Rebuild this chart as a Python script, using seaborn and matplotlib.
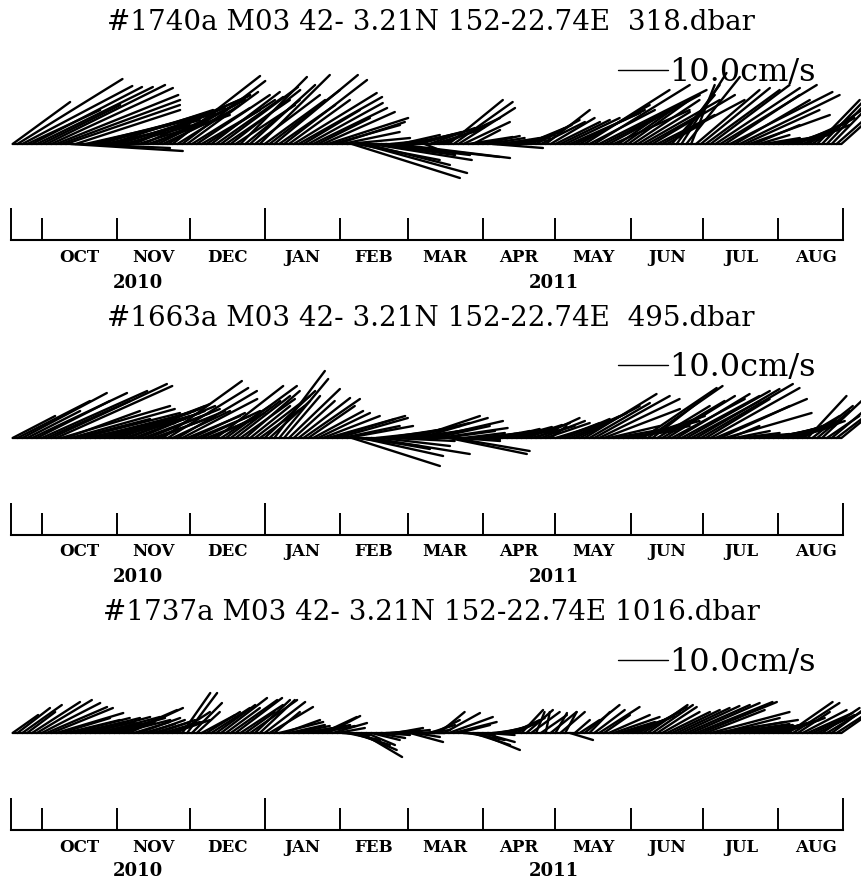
import numpy as np
import pandas as pd
import matplotlib
matplotlib.use("Agg")
import matplotlib.pyplot as plt
import matplotlib.dates as mdates
import matplotlib.transforms as mtransforms
import seaborn as sns

# ---------------- data ----------------
titles = ["#1740a M03 42- 3.21N 152-22.74E  318.dbar",
          "#1663a M03 42- 3.21N 152-22.74E  495.dbar",
          "#1737a M03 42- 3.21N 152-22.74E 1016.dbar"]
month_labels = ["OCT", "NOV", "DEC", "JAN", "FEB", "MAR", "APR", "MAY", "JUN", "JUL", "AUG"]
month_starts = ["2010-10-01", "2010-11-01", "2010-12-01", "2011-01-01", "2011-02-01", "2011-03-01",
                "2011-04-01", "2011-05-01", "2011-06-01", "2011-07-01", "2011-08-01", "2011-09-01"]
year_labels = ["2010", "2011"]
record_start = "2010-09-18 12:00"
record_end = "2011-08-27 18:00"
scale_value = 10.0
scale_label = "10.0cm/s"

stick_first = "2010-09-19"
stick_step = "2D"

# eastward (u) and northward (v) velocity, cm/s, every 2 days
u_318 = [11.5, 21, 22, 14.6, 22, 23.2, 15.7, 23.7, 24.3, 24.4,
         23.8, 22.8, 22.4, 20.9, 17.9, 22.9, 23, 15, 22, 17,
         20.7, 17.1, 19.2, 16.2, 19.2, 21.2, 15.3, 21.3, 16.3, 16.4,
         17.4, 13.4, 16.5, 17.5, 12.5, 16.6, 14.2, 11.6, 14.6, 11.7,
         13.7, 13.7, 13.4, 15.4, 12.8, 13.9, 11.9, 13.3, 10.9, 13,
         13, 14, 12.1, 14.1, 16.7, 11.2, 16.6, 12.2, 16.6, 16.7,
         11.3, 14.9, 14.8, 10.4, 14.4, 16.1, 13.5, 13.5, 11.5, 12.6,
         21.6, 16.6, 21.1, 16.7, 20.1, 15.8, 17.8, 22.8, 7.8, 22.9,
         7.9, 8.9, 9, 9.4, 10, 3, 9.1, 9.1, 9.1, 11.2,
         10.8, 11.8, 11.3, 9.3, 8.9, 5.4, 4.4, 7.4, 7.4, 10.1,
         6.5, 7.5, 7.6, 7.6, 7.6, 7.7, 7.7, 8.1, 8.7, 8.8,
         8.8, 8.8, 8.9, 9.9, 10.9, 14, 14, 14, 17, 13.1,
         19.1, 21.5, 15.2, 18.2, 15.2, 8.3, 10.3, 12.3, 13.3, 10.4,
         15.4, 11.4, 16.5, 11.5, 16.5, 6.6, 8.6, 8.6, 9, 10.7,
         4.7, 12.7, 13.8, 14.8, 15.8, 16.9, 19.3, 14.9, 20.5, 15,
         20, 15, 16.1, 9.1, 6.1, 7.2, 8.2, 8.2, 8.2, 9.3,
         9.9, 9.3, 9.4, 9.4, 9.4, 9.9, 8.5, 9.5, 7.5, 8.6,
         6.6, 7.6]
v_318 = [8.4, 13, 11.6, 6.8, 11.4, 11.4, 7.8, 11.8, 11.2, 9.8,
         8.8, 7.8, -1.4, 6.8, -0.8, 5.2, 5.8, 3.8, 6.4, 3.8,
         6.8, 4.8, 6.2, 4.4, 7.2, 8.8, 4.8, 9.8, 5.8, 7.8,
         8.8, 6.4, 9.8, 13.6, 7.8, 12.6, 10.4, 7.2, 9.8, 6.8,
         8.8, 10.4, 9.4, 11.4, 8.8, 10.8, 7.8, 13.4, 8.8, 11.8,
         9.8, 13.8, 8.8, 10.8, 13.8, 7.8, 12.8, 8.8, 10.2, 9.4,
         6.8, 8.2, 7.2, 5.2, 6.4, 5.2, 3.8, 4.4, 2.4, 1.2,
         -6.8, -3.2, -5.8, -4.2, -3.2, -2.2, -2.2, -2.6, 0.8, -2.8,
         1.8, 1.6, 2, 2.4, 2.8, -1.2, 3.2, 2.8, 3.4, 5.2,
         8.8, 8.4, 7.2, 4.4, 1.4, 2.8, 0.8, 1.6, 1.2, -0.8,
         0.8, 1.2, 0.8, 1.2, 1.8, 2.4, 3.2, 3.8, 4.8, 4.4,
         6.8, 5.2, 4.4, 4.8, 5.2, 6.2, 6.8, 7.8, 10.8, 6.8,
         11.8, 10.8, 7.8, 9.8, 6.8, 5.8, 7.2, 8.8, 8.8, 6.4,
         8.8, 6.4, 9.8, 5.8, 8.8, 3.8, 9.8, 11.8, 14.2, 13.4,
         11.8, 10.8, 11.2, 10.8, 11.8, 11.2, 11.8, 9.8, 10.4, 8.8,
         9.8, 6.8, 5.8, 3.8, 1.8, 1.2, 1.2, 1, 1.2, 1.8,
         2.8, 3.4, 4.2, 3.8, 5.2, 6.8, 8.8, 9.8, 7.8, 8.8,
         5.8, 6.8]

u_495 = [8.5, 14.5, 16.9, 10.6, 19, 14.6, 21.1, 16.7, 23.1, 23.2,
         21.8, 14.8, 20.8, 14.9, 19.9, 16.9, 20, 16, 19, 16.1,
         18.1, 15.1, 17.2, 15.2, 16.2, 14.2, 15.3, 13.3, 14.3, 12.4,
         13.4, 15.8, 16.1, 11.5, 15.9, 15, 10.6, 10.6, 10.6, 11.7,
         9.7, 10.7, 13.4, 9.8, 14.2, 9.9, 10.9, 10.9, 10.9, 8,
         11, 9, 10.1, 8.1, 10.1, 9.8, 7.2, 10.2, 8.2, 10.3,
         11.3, 9.3, 10, 10.4, 11.4, 15.5, 12.5, 14.1, 11.5, 13.2,
         17.6, 12.6, 16.3, 12.7, 19.7, 12.8, 13.8, 11.8, 12.8, 12.9,
         9.9, 12.9, 10, 13, 13.6, 9.1, 14.7, 11.1, 13.7, 10.2,
         15.6, 15.2, 8.3, 8.3, 8.3, 5.4, 7.4, 7.4, 7.4, 7.5,
         7.5, 7.5, 8.2, 8, 8.2, 8.1, 8.7, 8.7, 8.7, 8.8,
         8.8, 3.2, 7.9, 7.9, 8.9, 10, 10.4, 12, 14.4, 12.1,
         15.1, 16.1, 15.2, 10.2, 10.2, 11.3, 11.3, 12.3, 13.3, 13.4,
         14.8, 15, 9.5, 10.5, 12.5, 13.6, 14.6, 14.6, 15.6, 16.7,
         13.7, 16.7, 18.4, 12.8, 17.8, 18.3, 13.9, 17.3, 5.9, 7,
         8, 9, 10.1, 10.1, 10.1, 10.2, 10.2, 10.2, 10.2, 10.3,
         9.9, 8.3, 9.4, 7.4, 7.8, 8.1, 6.5, 7.9, 6.5, 7.6,
         5, 6.6]
v_495 = [4.4, 7.4, 9, 5.4, 9, 7.4, 9.4, 7.4, 10.8, 10.4,
         6.4, 5.4, 5.8, 3.8, 5, 3.4, 5, 3, 5.4, 3.8,
         5.8, 4.4, 6.4, 5, 6.8, 5.4, 6.4, 5, 5.8, 4.4,
         5.4, 11.4, 10, 5.4, 9.4, 7.8, 4.4, 5, 4.4, 5.4,
         3.8, 5, 10.4, 6.4, 10.4, 7.4, 8.4, 7.8, 9.4, 6.4,
         8.4, 6.4, 9.4, 7.4, 13.4, 11.8, 8.4, 9.8, 7.4, 8,
         7.8, 6.4, 5.4, 5, 4.4, 4.4, 3.8, 4, 2.4, 2.4,
         -5.6, -1.6, -3.6, -2.2, -3.2, 1.4, -1.6, 1.8, -0.6, 2.4,
         1, 3, 1.4, 4.4, 4, 1.8, 3.4, 2.4, 2, 1.4,
         -3.2, -2.6, -0.6, 1, 0.4, -0.2, 0.8, 1, 0.6, 1.4,
         1, 1.8, 1.4, 2.2, 1.8, 2.6, 3, 2.4, 4, 3.4,
         3, 2.4, 2.4, 3, 3.8, 4.4, 5, 6.4, 8.8, 7,
         8.4, 7.8, 5.8, 2.4, 1.8, 1.4, 1.8, 2.4, 3.4, 4.4,
         10, 10.4, 7.4, 6.4, 7.4, 8.4, 7.8, 8.8, 8.4, 9.4,
         7.4, 9.8, 10.8, 7.8, 10, 7.8, 6.4, 5, 2.4, 1.4,
         1, 0.8, 0.6, 0.8, 1, 1.4, 1.8, 2.2, 2.6, 3,
         3.4, 2.4, 3.4, 4.4, 8.4, 6.4, 5.4, 7.4, 4.4, 6.4,
         3.8, 5.4]

u_1016 = [5.1, 6.5, 7.9, 5.6, 9.6, 11, 11.7, 12.1, 12.3, 13.4,
          9.8, 10.8, 11.8, 9.9, 11.9, 9.9, 12, 9, 12, 9.1,
          11.1, 8.1, 10.2, 10.6, 10.8, 7.2, 8.3, 6.3, 7.3, 7.4,
          7.4, 7.4, 7.5, 7.5, 6.5, 5.6, 6, 6, 4.6, 6.7,
          6.7, 7.7, 7.8, 9.2, 6.8, 9.3, 9.3, 8.5, 5.9, 9.4,
          7, 7, 8.1, 8.7, 5.1, 8.8, 7.2, 7.2, 7.2, 7.3,
          7.3, 7.3, 7.4, 7.4, 6.8, 6.5, 6.9, 5.5, 5.5, 6.6,
          7.6, 8, 8.1, 5.7, 5.7, 5.8, 5.8, 5.8, 5.8, 5.5,
          5.9, 5.9, 6.6, 5, 5, 5.1, 5.1, 5.1, 5.1, 7.2,
          8.8, 8.6, 6.3, 6.3, 7.3, 7.4, 8.4, 6.4, 5.4, 5.5,
          5.5, 5.5, 5.6, 5.6, 5.6, 4.3, 5.3, 5.7, 1.7, 5.2,
          0.8, 5.2, 2.3, 4.9, 2.3, 4.6, 3, 4, 7, 4.1,
          6.1, 8.1, 5.2, 8.2, 9.2, 7.3, 8.3, 8.3, 8.3, 8.4,
          8.8, 8, 8.1, 7.9, 7.5, 8.6, 9.6, 10.6, 11.6, 12.7,
          13.7, 15.3, 15.2, 11.8, 15.8, 16.5, 11.9, 11.9, 11.9, 11.6,
          11, 11, 10.1, 10.1, 9.7, 9.2, 8.8, 8.2, 8.2, 8.3,
          8.9, 9.3, 6.4, 8.8, 9, 6.5, 7.5, 7.5, 6.9, 7.6,
          5.6, 6.6]
v_1016 = [3.6, 5, 5.6, 4.2, 6.2, 6.6, 6, 5.2, 5, 4,
          3, 2.6, 3, 2.2, 3, 2.2, 3.2, 2, 3.2, 2.2,
          3, 2, 2.6, 4.6, 5, 2.2, 3, 1.8, 2.6, 2.2,
          2.6, 2.2, 2.4, 2.6, 4.2, 8, 8, 6, 4.2, 3.6,
          4.2, 5, 5.6, 7, 5, 6.6, 7, 5.6, 4.2, 6.6,
          6.6, 6.6, 6.2, 5.2, 4.2, 2.2, 2.6, 1.6, 1.4, 1,
          1.2, 1.4, 1.6, 1.4, 3.2, 3.4, 2, 1, -0.4, -1.4,
          -2.4, -3.4, -4.8, -2.4, -1.4, -1, -0.4, 0.2, 0.6, 1,
          0.6, 0, -1.8, -0.8, 0, 0.6, 1.6, 2.6, 4.2, 4,
          3.2, 2.2, 1.6, -0.4, -1.4, -2.4, -3.4, -1.8, -0.4, 0.6,
          1, 1.4, 1.8, 2.6, 3, 4.6, 4.6, 4.2, 4.2, 3.6,
          4.2, 4.2, 4, 4.2, 4.2, -1.4, 2.6, 2.6, 5.6, 4.2,
          4.6, 5.2, 3.6, 3.6, 3.2, 2.2, 2.6, 3, 3.4, 4.2,
          5.2, 5.6, 5.6, 5.2, 4.2, 4.2, 4.6, 5, 5.4, 5.6,
          6, 6.2, 6.2, 4.6, 4.2, 2.6, 3, 2.2, 1.8, 1.6,
          1.4, 1.2, 1.4, 1.6, 1.8, 2, 2.2, 2.4, 2.6, 3,
          6.2, 6, 4.2, 4.6, 4, 3, 3.6, 5, 4.2, 5.6,
          3.6, 4.6]

series = [(u_318, v_318), (u_495, v_495), (u_1016, v_1016)]

# ---------------- layout (pixels) ----------------
W, H = 862, 881
view_start = pd.Timestamp("2010-09-13 19:00")
view_end = pd.Timestamp("2011-09-04 12:00")
base_y = [144, 438, 733]
axis_y = [240, 535, 830]
title_y = [22, 319, 613]
scale_line_y = [70, 365, 660]
scale_text_y = [81, 376, 671]
scale_x0 = 618
month_y = [258, 552, 847]
year_y = [283, 577, 871]
stick_above, stick_below = 90, 50

sns.set_style("white")
plt.rcParams["font.family"] = ["DejaVu Serif"]
plt.rcParams["text.color"] = "black"

fig = plt.figure(figsize=(W / 100, H / 100), dpi=100)
x0n = mdates.date2num(view_start)
x1n = mdates.date2num(view_end)
px_per_day = W / (x1n - x0n)

times = mdates.date2num(pd.date_range(stick_first, periods=len(u_318), freq=stick_step))
ms = mdates.date2num(pd.to_datetime(month_starts))
mids = (ms[:-1] + ms[1:]) / 2
rs = mdates.date2num(pd.Timestamp(record_start))
re_ = mdates.date2num(pd.Timestamp(record_end))
jan = mdates.date2num(pd.Timestamp("2011-01-01"))

for p in range(3):
    u = np.array(series[p][0], float)
    v = np.array(series[p][1], float)
    assert len(u) == len(v) == len(times)
    h_px = stick_above + stick_below
    ax = fig.add_axes([0, 1 - (base_y[p] + stick_below) / H, 1, h_px / H])
    ylo, yhi = -stick_below / 5.0, stick_above / 5.0
    ax.set_xlim(x0n, x1n)
    ax.set_ylim(ylo, yhi)
    px_per_unit = h_px / (yhi - ylo)
    k = px_per_unit / px_per_day  # days per cm/s on screen
    rows = []
    for i in range(len(u)):
        rows.append((times[i], 0.0, i))
        rows.append((times[i] + u[i] * k, v[i], i))
    df = pd.DataFrame(rows, columns=["x", "y", "id"])
    sns.lineplot(data=df, x="x", y="y", units="id", estimator=None, sort=False,
                 color="black", linewidth=1.7, ax=ax, legend=False)
    ax.plot([times[0], times[-1]], [0, 0], color="black", lw=1.6)
    # scale bar
    sx = x0n + scale_x0 / px_per_day
    sy = (base_y[p] - scale_line_y[p]) / px_per_unit
    ax.plot([sx, sx + scale_value * k], [sy, sy], color="black", lw=1.0)
    ty = (base_y[p] - scale_text_y[p]) / px_per_unit
    ax.text(sx + scale_value * k + 0.3, ty, scale_label, fontsize=23, va="baseline", ha="left",
            family="DejaVu Serif", color="black")
    ax.set_axis_off()

    # title
    fig.text(0.5, 1 - title_y[p] / H, titles[p], ha="center", va="center", fontsize=20,
             family="DejaVu Serif", color="black")

    # time axis
    tax = fig.add_axes([0, 1 - axis_y[p] / H, 1, 32 / H])
    tax.set_xlim(x0n, x1n)
    tax.set_ylim(0, 1)
    tax.patch.set_alpha(0)
    for s in ["top", "left", "right"]:
        tax.spines[s].set_visible(False)
    tax.spines["bottom"].set_bounds(rs, re_)
    tax.spines["bottom"].set_linewidth(1.5)
    tax.spines["bottom"].set_color("black")
    tax.set_xticks([rs, jan, re_])
    minor = [m for m in ms if rs < m < re_ and m != jan]
    tax.set_xticks(minor, minor=True)
    tax.tick_params(axis="x", which="major", direction="in", length=23, width=1.4,
                    bottom=True, labelbottom=False, color="black")
    tax.tick_params(axis="x", which="minor", direction="in", length=15.5, width=1.4,
                    bottom=True, labelbottom=False, color="black")
    tax.set_yticks([])
    tr = mtransforms.blended_transform_factory(tax.transData, fig.transFigure)
    for lab, m in zip(month_labels, mids):
        tax.text(m, 1 - month_y[p] / H, lab, transform=tr, ha="center", va="center",
                 fontsize=12, fontweight="bold", family="DejaVu Serif", color="black")
    tax.text((rs + jan) / 2, 1 - year_y[p] / H, year_labels[0], transform=tr, ha="center",
             va="center", fontsize=13, fontweight="bold", family="DejaVu Serif", color="black")
    tax.text((jan + re_) / 2, 1 - year_y[p] / H, year_labels[1], transform=tr, ha="center",
             va="center", fontsize=13, fontweight="bold", family="DejaVu Serif", color="black")

fig.savefig("out.png", dpi=100, facecolor="white")
